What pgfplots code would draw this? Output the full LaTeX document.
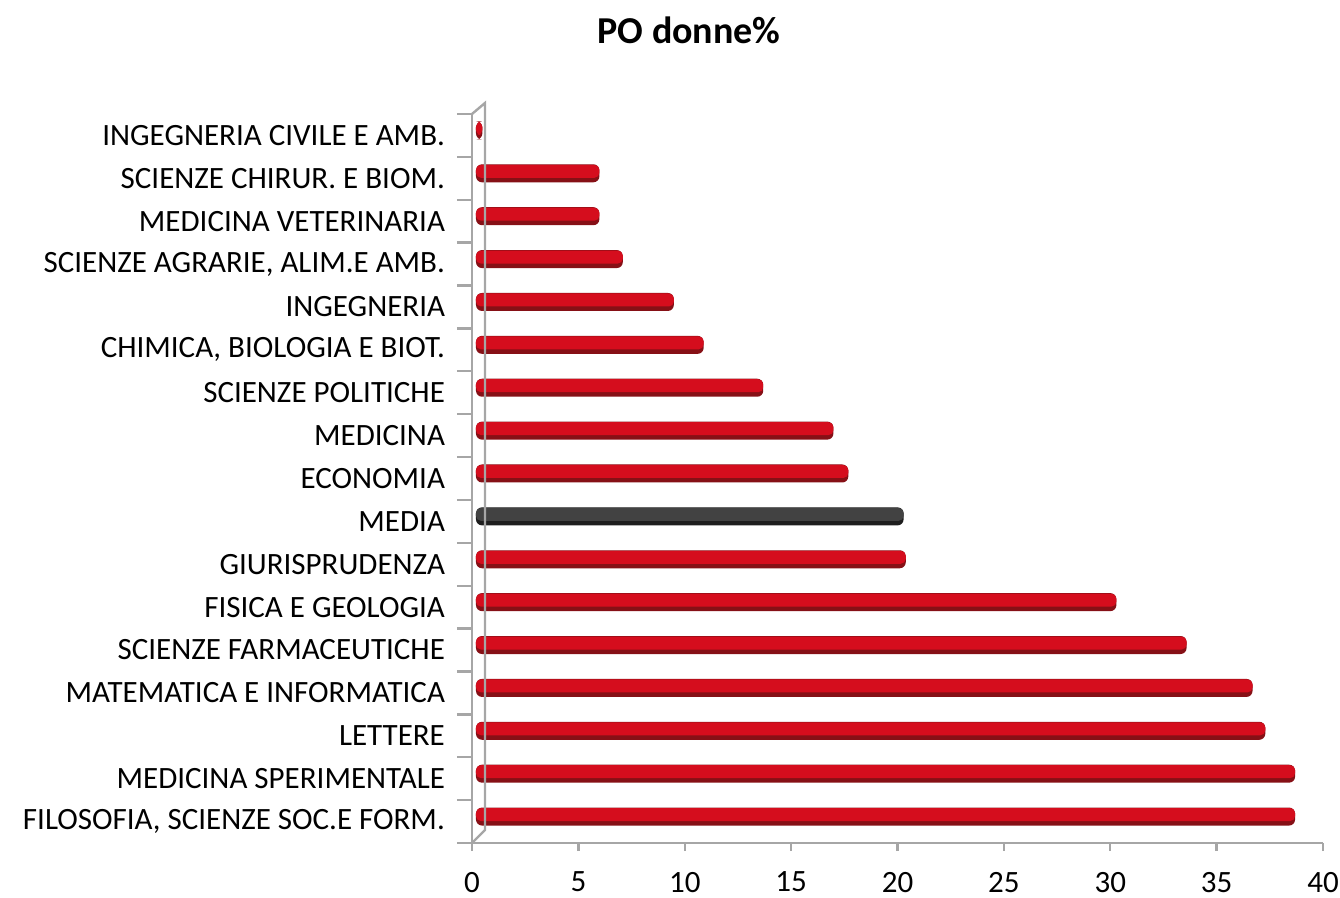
\documentclass[border=0pt]{standalone}
\usepackage{pgfplots}
\usepackage{pgfplotstable}
\pgfplotsset{compat=1.18}
\usepackage{fontspec}
\setmainfont{Carlito}

\definecolor{barred}{HTML}{D50D1D}
\definecolor{bardark}{HTML}{861016}
\definecolor{medgray}{HTML}{424242}
\definecolor{gdark}{HTML}{1E1E1E}
\definecolor{axgray}{HTML}{A6A6A6}

% value, position (0 = bottom)
\pgfplotstableread{
val  pos
38.5 0
38.5 1
37.1 2
36.5 3
33.4 4
30.1 5
20.2 6
17.5 8
16.8 9
13.5 10
10.7 11
9.3  12
6.9  13
5.8  14
5.8  15
0.3  16
}\redbars
\pgfplotstableread{
val  pos
20.1 7
}\mediabar

\begin{document}
\begin{tikzpicture}
\useasboundingbox (-236bp,-27.5bp) rectangle (434bp,421.5bp);
  \begin{axis}[%
    at={(0,0)}, anchor=south west,
    scale only axis,
    width=425.5bp, height=364.5bp,
    xmin=0, xmax=40,
    ymin=-0.5, ymax=16.5,
    axis x line*=bottom,
    axis y line*=left,
    axis line style={axgray, line width=1.2bp, -},
    xtick={0,5,...,40},
    ytick={0,...,16},
    yticklabels={%
      {FILOSOFIA, SCIENZE SOC.E FORM.},
      MEDICINA SPERIMENTALE,
      LETTERE\hspace{3bp},
      MATEMATICA E INFORMATICA,
      SCIENZE FARMACEUTICHE,
      FISICA E GEOLOGIA,
      GIURISPRUDENZA\hspace{3bp},
      MEDIA,
      ECONOMIA,
      MEDICINA,
      SCIENZE POLITICHE,
      {CHIMICA, BIOLOGIA E BIOT.},
      INGEGNERIA,
      {SCIENZE AGRARIE, ALIM.E AMB.},
      MEDICINA VETERINARIA,
      SCIENZE CHIRUR. E BIOM.,
      INGEGNERIA CIVILE E AMB.},
    minor ytick={-0.5,0.5,...,16.5},
    tick align=outside,
    major tick length=4bp,
    minor tick length=7.5bp,
    tick style={axgray, line width=1.2bp},
    major y tick style={draw=none},
    font=\fontsize{15.5bp}{18bp}\selectfont,
    /pgf/number format/assume math mode=true,
    xticklabel style={yshift=-7bp},
    yticklabel style={xshift=-6bp},
    xbar, bar shift=0pt,
    clip=false,
  ]
    % red bars: dark base, bright upper body
    \addplot[xbar, bar width=9bp, draw=none, fill=bardark, rounded corners=3bp,
      xshift=2bp, yshift=2.5bp] table[x=val, y=pos] {\redbars};
    \addplot[xbar, bar width=6.5bp, draw=none, fill=barred, rounded corners=2.5bp,
      xshift=2bp, yshift=3.5bp] table[x=val, y=pos] {\redbars};
    % media
    \addplot[xbar, bar width=9bp, draw=none, fill=gdark, rounded corners=3bp,
      xshift=2bp, yshift=2.5bp] table[x=val, y=pos] {\mediabar};
    \addplot[xbar, bar width=6.5bp, draw=none, fill=medgray, rounded corners=2.5bp,
      xshift=2bp, yshift=3.5bp] table[x=val, y=pos] {\mediabar};
  \end{axis}
  % 3D wall edges
  \draw[axgray, line width=1.2bp] (0,0) -- (6.5bp,6.5bp) -- (6.5bp,370bp) -- (0,364.5bp);
  \node[font=\bfseries\fontsize{19bp}{22bp}\selectfont] at (108.5bp,406.5bp) {PO donne\%};
\end{tikzpicture}
\end{document}
